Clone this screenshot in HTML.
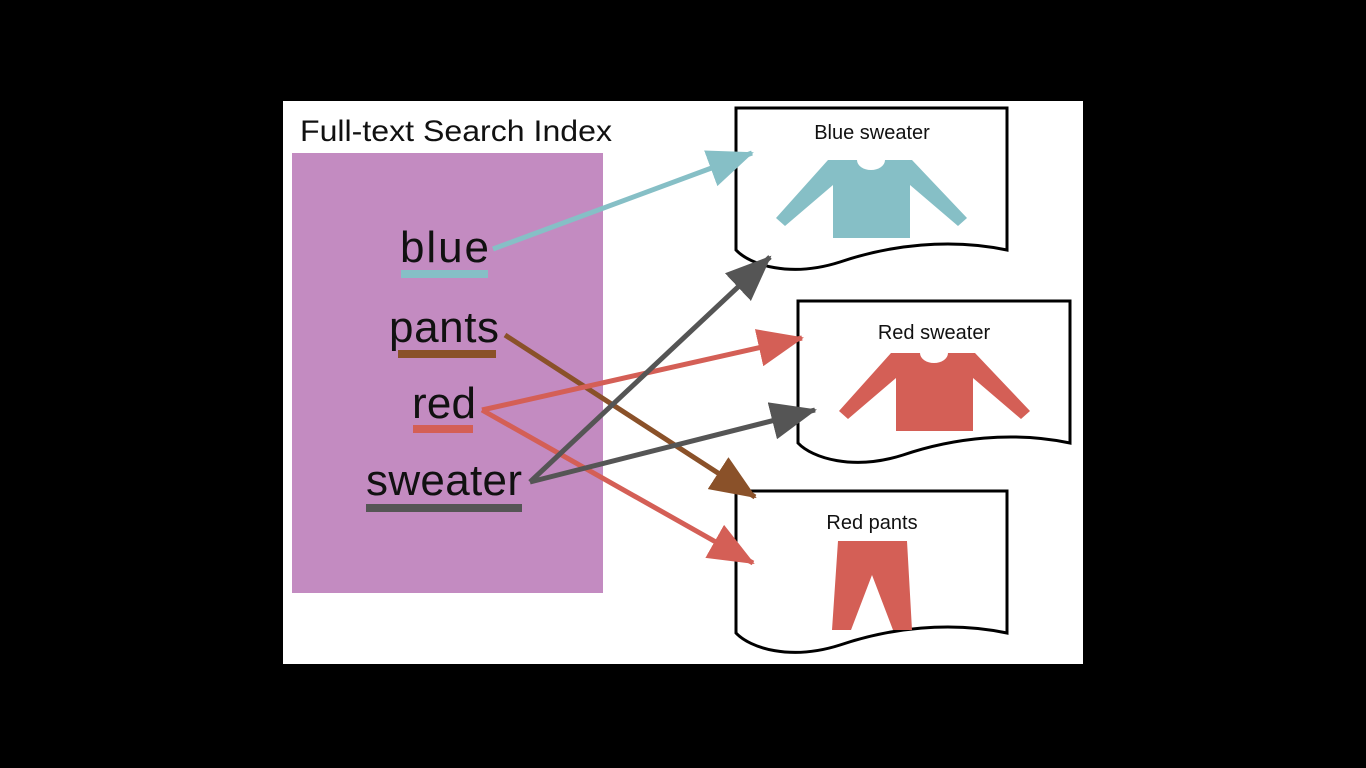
<!DOCTYPE html><html><head><style>body{margin:0;background:#000;width:1366px;height:768px;overflow:hidden}</style></head><body>
<svg width="1366" height="768" xmlns="http://www.w3.org/2000/svg" style="position:absolute;left:0;top:0">
<defs>
<marker id="mb" markerUnits="userSpaceOnUse" markerWidth="46" markerHeight="38" refX="44" refY="19" orient="auto"><path d="M0,0L46,19L0,38z" fill="#86bfc6"/></marker>
<marker id="mr" markerUnits="userSpaceOnUse" markerWidth="46" markerHeight="38" refX="44" refY="19" orient="auto"><path d="M0,0L46,19L0,38z" fill="#d45f56"/></marker>
<marker id="mg" markerUnits="userSpaceOnUse" markerWidth="46" markerHeight="38" refX="44" refY="19" orient="auto"><path d="M0,0L46,19L0,38z" fill="#555"/></marker>
<marker id="mn" markerUnits="userSpaceOnUse" markerWidth="46" markerHeight="38" refX="44" refY="19" orient="auto"><path d="M0,0L46,19L0,38z" fill="#8a5129"/></marker>
<g id="sw"><path d="M828,160H857A14,10 0 0 0 885,160H912L967,218L958,226L910,185V238H833V185L785,226L776,218Z"/></g>
</defs>
<rect x="283" y="101" width="800" height="563" fill="#fff"/>
<text x="300" y="141" font-family="Liberation Sans,sans-serif" font-size="30" fill="#111" textLength="312" lengthAdjust="spacingAndGlyphs">Full-text Search Index</text>
<rect x="292" y="153" width="311" height="440" fill="#c38bc1"/>
<g font-family="Liberation Sans,sans-serif" font-size="44" fill="#111" lengthAdjust="spacingAndGlyphs">
<text x="400" y="262" textLength="89">blue</text><text x="389" y="342" textLength="110">pants</text><text x="412" y="418" textLength="64">red</text><text x="366" y="495" textLength="156">sweater</text></g>
<rect x="401" y="270" width="87" height="8" fill="#86bfc6"/>
<rect x="398" y="350" width="98" height="8" fill="#8a5129"/>
<rect x="413" y="425" width="60" height="8" fill="#d45f56"/>
<rect x="366" y="504" width="156" height="8" fill="#555"/>
<g fill="#fff" stroke="#000" stroke-width="3">
<path d="M736,108H1007V250C950,238 890,245 840,262C790,278 750,265 736,250Z"/>
<path d="M798,301H1070V443C1013,431 953,438 903,455C853,471 812,458 798,443Z"/>
<path d="M736,491H1007V633C950,621 890,628 840,645C790,661 750,648 736,633Z"/>
</g>
<g font-family="Liberation Sans,sans-serif" font-size="20" fill="#111" text-anchor="middle">
<text x="872" y="139">Blue sweater</text><text x="934" y="339">Red sweater</text><text x="872" y="529">Red pants</text></g>
<use href="#sw" fill="#86bfc6"/>
<use href="#sw" fill="#d45f56" transform="translate(63,193)"/>
<path d="M838,541H907L912,630H893L872,575L851,630H832Z" fill="#d45f56"/>
<g fill="none" stroke-width="5">
<line x1="493" y1="249" x2="752" y2="153" stroke="#86bfc6" marker-end="url(#mb)"/>
<line x1="505" y1="335" x2="755" y2="497" stroke="#8a5129" marker-end="url(#mn)"/>
<line x1="482" y1="410" x2="802" y2="338" stroke="#d45f56" marker-end="url(#mr)"/>
<line x1="482" y1="410" x2="753" y2="563" stroke="#d45f56" marker-end="url(#mr)"/>
<line x1="530" y1="482" x2="770" y2="257" stroke="#555" marker-end="url(#mg)"/>
<line x1="530" y1="482" x2="815" y2="410" stroke="#555" marker-end="url(#mg)"/>
</g>
</svg></body></html>
